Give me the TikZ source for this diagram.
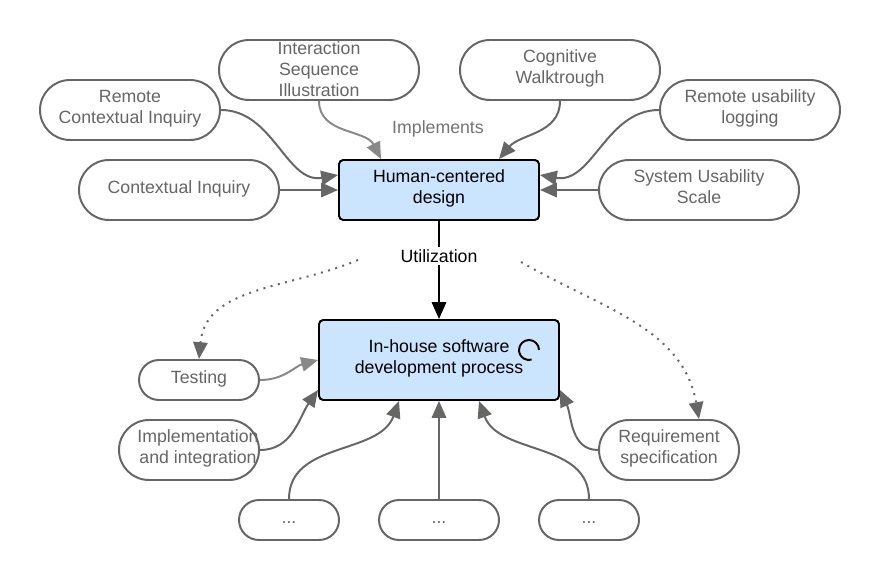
\documentclass[tikz,border=0pt]{standalone}
\usepackage{fontspec}
\setmainfont{Liberation Sans}
\usepackage{xcolor}
\usetikzlibrary{arrows.meta,calc}
\definecolor{linegray}{HTML}{666666}
\definecolor{softgray}{HTML}{888888}
\definecolor{boxblue}{HTML}{CCE5FF}
\newcommand{\lblstrut}{\rule[-4.8pt]{0pt}{14pt}}
\tikzset{
  lbl/.style={font=\fontsize{12.6}{15}\selectfont, align=center,
    execute at begin node=\lblstrut, execute at end node=\lblstrut},
  pill/.style={lbl, draw=linegray, line width=1.4pt, text=linegray, rounded corners=0.75cm,
    minimum width=#1, minimum height=1.5cm, inner sep=0pt},
  smallpill/.style={pill=#1, minimum height=1cm, rounded corners=0.5cm},
  bluebox/.style={lbl, draw=black, line width=1.4pt, fill=boxblue, rounded corners=3pt,
    minimum width=#1, inner sep=0pt},
  link/.style={-{Triangle[length=0.42cm,width=0.36cm]}, line width=1.4pt, draw=linegray},
  softlink/.style={link, draw=softgray},
  dotlink/.style={link, dash pattern=on 1.4pt off 3.9pt}
}

\begin{document}
\begin{tikzpicture}[>=Stealth]
  \useasboundingbox (0,0) rectangle (22,14.5);
  \fill[white] (0,0) rectangle (22,14.5);

  % Blue boxes
  \node[bluebox=5cm, minimum height=1.5cm] (hcd) at (10.975,9.75) {Human-centered\\design};
  \node[bluebox=6cm, minimum height=2cm] (inhouse) at (10.975,5.5) {In-house software\\development process};

  % Upper ring
  \node[pill=5cm, inner ysep=-3.5pt] (sequence) at (7.975,12.75) {\rule{0pt}{13.2pt}Interaction\\Sequence\\Illustration};
  \node[pill=4.5cm] (remote) at (3.25,11.75) {Remote\\Contextual Inquiry};
  \node[pill=5cm] (walk) at (14,12.75) {Cognitive\\Walktrough};
  \node[pill=4.5cm] (logging) at (18.75,11.75) {Remote usability\\logging};
  \node[pill=5cm] (inquiry) at (4.475,9.75) {Contextual Inquiry};
  \node[pill=5cm] (scale) at (17.475,9.75) {System Usability\\Scale};

  % Lower ring
  \node[smallpill=3cm] (testing) at (4.975,5) {Testing};
  \node[pill=3.5cm, inner xsep=-0.5cm] (impl) at (4.725,3.25) {\hspace*{0.45cm}Implementation\\\hspace*{0.45cm}and integration};
  \node[pill=3.5cm] (req) at (16.725,3.25) {Requirement\\specification};
  \node[smallpill=2.5cm] (dotsa) at (7.225,1.5) {...};
  \node[smallpill=3cm] (dotsb) at (10.975,1.5) {...};
  \node[smallpill=2.5cm] (dotsc) at (14.725,1.5) {...};

  % Arrows into the upper box
  \draw[link] (remote.east) to[out=0,in=190] ([yshift=0.375cm]hcd.west);
  \draw[softlink] (sequence.south) to[out=-90,in=117] ([xshift=-1.45cm]hcd.north);
  \draw[link] (walk.south) to[out=-90,in=50] ([xshift=1.5cm]hcd.north);
  \draw[link] (logging.west) to[out=180,in=-10] ([yshift=0.375cm]hcd.east);
  \draw[link] (inquiry) -- (hcd);
  \draw[link] (scale) -- (hcd);

  % Utilization
  \draw[link, draw=black] (hcd) -- (inhouse);
  \node[font=\fontsize{12.6}{15}\selectfont, fill=white, inner sep=2pt] (use) at (10.975,8.1) {Utilization};
  \node[lbl, text=softgray!85!black] (impltext) at (10.95,11.25) {Implements};
  \coordinate (dotleft) at (8.95,8);
  \coordinate (dotright) at (13.025,7.95);
  \draw[dotlink] (dotleft) to[out=203,in=85] (testing.north);
  \draw[dotlink] (dotright) to[out=-30,in=100] ([xshift=0.75cm]req.north);

  % Arrows into the lower box
  \draw[softlink] (testing.east) to[out=0,in=195] (inhouse.west);
  \draw[link] (impl.east) to[out=0,in=235] ([yshift=-0.75cm]inhouse.west);
  \draw[link] (dotsa.north) to[out=90,in=-110] ([xshift=-1cm]inhouse.south);
  \draw[link] (dotsb) -- (inhouse);
  \draw[link] (dotsc.north) to[out=90,in=-70] ([xshift=1cm]inhouse.south);
  \draw[link] (req.west) to[out=180,in=-65] ([yshift=-0.75cm]inhouse.east);

  % Busy mark on the lower box
  \coordinate (busy) at (13.225,5.75);
  \draw[line width=1.4pt] ([xshift=0.25cm]busy) arc[start angle=0, end angle=285, radius=0.25cm];
\end{tikzpicture}
\end{document}
